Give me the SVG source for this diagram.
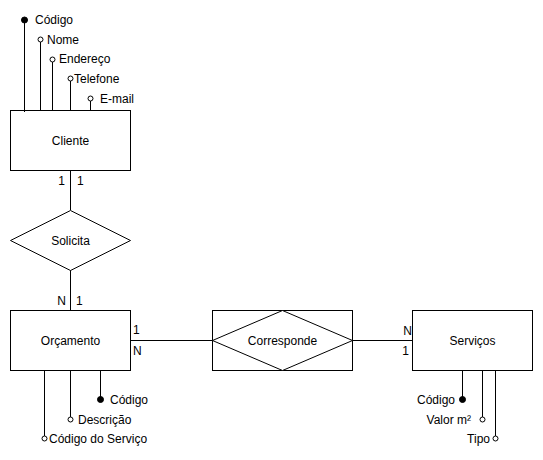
<svg xmlns="http://www.w3.org/2000/svg" width="543" height="460" viewBox="0 0 543 460">
<style>
.s{fill:#fff;stroke:#000;stroke-width:1}
.l{fill:none;stroke:#000;stroke-width:1}
.o{fill:#fff;stroke:#000;stroke-width:1}
.f{fill:#000;stroke:#000;stroke-width:1}
text{font-family:"Liberation Sans",Arial,Helvetica,sans-serif;font-size:12px;fill:#000}
.c{text-anchor:middle;dominant-baseline:central}
.e{text-anchor:end}
</style>
<rect width="543" height="460" fill="#fff"/>
<g id="connectors">
<line class="l" x1="70.5" y1="170" x2="70.5" y2="210"/>
<line class="l" x1="70.5" y1="270" x2="70.5" y2="310"/>
<line class="l" x1="130" y1="340.5" x2="212" y2="340.5"/>
<line class="l" x1="352" y1="340.5" x2="412" y2="340.5"/>
<text x="65" y="185" class="e">1</text>
<text x="77" y="185">1</text>
<text x="66" y="305" class="e">N</text>
<text x="76" y="305">1</text>
<text x="133" y="334">1</text>
<text x="133" y="355">N</text>
<text x="412" y="335" class="e">N</text>
<text x="409" y="355" class="e">1</text>
</g>
<g id="cliente">
<rect class="s" x="10.5" y="110.5" width="120" height="60"/>
<text x="70.5" y="140.5" class="c">Cliente</text>
</g>
<g id="cliente-attrs">
<line class="l" x1="24.5" y1="20" x2="24.5" y2="112"/>
<circle class="f" cx="24.5" cy="20" r="3"/>
<text x="35" y="24">Código</text>
<line class="l" x1="40.5" y1="42" x2="40.5" y2="110"/>
<circle class="o" cx="40.5" cy="39.5" r="2.5"/>
<text x="47" y="44">Nome</text>
<line class="l" x1="52.5" y1="62" x2="52.5" y2="110"/>
<circle class="o" cx="52.5" cy="59.5" r="2.5"/>
<text x="59" y="63">Endereço</text>
<line class="l" x1="70.5" y1="81" x2="70.5" y2="110"/>
<circle class="o" cx="70.5" cy="78.5" r="2.5"/>
<text x="74" y="83">Telefone</text>
<line class="l" x1="90.5" y1="101" x2="90.5" y2="110"/>
<circle class="o" cx="90.5" cy="98.5" r="2.5"/>
<text x="100" y="103">E-mail</text>
</g>
<g id="solicita">
<polygon class="s" points="10.5,240.5 70.5,210.5 130.5,240.5 70.5,270.5"/>
<text x="70.5" y="240.5" class="c">Solicita</text>
</g>
<g id="orcamento">
<rect class="s" x="10.5" y="310.5" width="120" height="60"/>
<text x="70.5" y="340.5" class="c">Orçamento</text>
</g>
<g id="orcamento-attrs">
<line class="l" x1="100.5" y1="370" x2="100.5" y2="399"/>
<circle class="f" cx="100.5" cy="399.5" r="3"/>
<text x="110" y="404">Código</text>
<line class="l" x1="70.5" y1="370" x2="70.5" y2="417"/>
<circle class="o" cx="70.5" cy="419.5" r="2.5"/>
<text x="78" y="424">Descrição</text>
<line class="l" x1="44.5" y1="370" x2="44.5" y2="436"/>
<circle class="o" cx="44.5" cy="438.5" r="2.5"/>
<text x="49" y="443">Código do Serviço</text>
</g>
<g id="corresponde">
<rect class="s" x="212.5" y="310.5" width="140" height="60"/>
<polygon class="s" points="212.5,340.5 282.5,310.5 352.5,340.5 282.5,370.5"/>
<text x="282.5" y="340.5" class="c">Corresponde</text>
</g>
<g id="servicos">
<rect class="s" x="412.5" y="310.5" width="120" height="60"/>
<text x="472.5" y="340.5" class="c">Serviços</text>
</g>
<g id="servicos-attrs">
<line class="l" x1="462.5" y1="370" x2="462.5" y2="399"/>
<circle class="f" cx="462.5" cy="399.5" r="3"/>
<text x="455" y="404" class="e">Código</text>
<line class="l" x1="482.5" y1="370" x2="482.5" y2="417"/>
<circle class="o" cx="482.5" cy="419.5" r="2.5"/>
<text x="471" y="424" class="e">Valor m²</text>
<line class="l" x1="495.5" y1="370" x2="495.5" y2="436"/>
<circle class="o" cx="495.5" cy="438.5" r="2.5"/>
<text x="490" y="443" class="e">Tipo</text>
</g>
</svg>
